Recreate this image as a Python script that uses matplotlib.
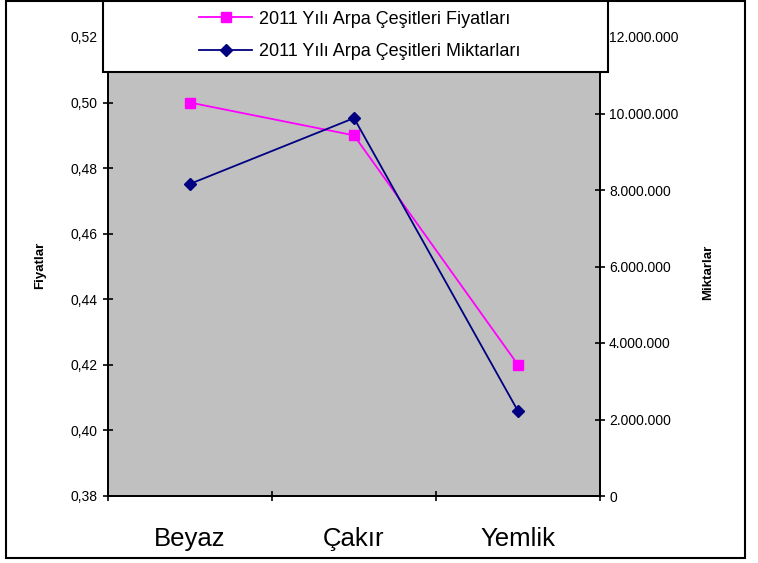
import matplotlib
matplotlib.use('Agg')
import matplotlib.pyplot as plt
from matplotlib.patches import Rectangle
from matplotlib.ticker import FuncFormatter, FixedLocator

plt.rcParams['font.family'] = ['Liberation Sans', 'DejaVu Sans']

kategoriler = ['Beyaz', 'Çakır', 'Yemlik']
fiyatlar = [0.50, 0.49, 0.42]
miktarlar = [8160000, 9880000, 2220000]
sol_ticks = [0.38, 0.40, 0.42, 0.44, 0.46, 0.48, 0.50, 0.52]
sag_ticks = [0, 2000000, 4000000, 6000000, 8000000, 10000000, 12000000]

W, H = 758, 563
fig = plt.figure(figsize=(W/100, H/100), dpi=100)
ax = fig.add_axes([108/W, 1-496/H, (600-108)/W, (496-37)/H])
ax.set_facecolor('#C0C0C0')
ax2 = ax.twinx()

x = list(range(len(kategoriler)))
l1, = ax.plot(x, fiyatlar, color='#FF00FF', lw=1.3, marker='s', ms=7,
              mec='#FF00FF', mfc='#FF00FF', label='2011 Yılı Arpa Çeşitleri Fiyatları')
l2, = ax2.plot(x, miktarlar, color='#000080', lw=1.3, marker='D', ms=6,
               mec='#000080', mfc='#000080', label='2011 Yılı Arpa Çeşitleri Miktarları')

ax.set_xlim(-0.5, len(kategoriler)-0.5)
ax.set_ylim(0.38, 0.52)
ax2.set_ylim(0, 12000000)
ax.set_yticks(sol_ticks)
ax2.set_yticks(sag_ticks)
ax.yaxis.set_major_formatter(FuncFormatter(lambda v, p: ('%.2f' % v).replace('.', ',')))
ax2.yaxis.set_major_formatter(FuncFormatter(lambda v, p: '{:,.0f}'.format(v).replace(',', '.')))

ax.xaxis.set_major_locator(FixedLocator([i-0.5 for i in range(len(kategoriler)+1)]))
ax.xaxis.set_minor_locator(FixedLocator(x))
ax.set_xticklabels([], minor=False)
ax.set_xticklabels(kategoriler, minor=True, fontsize=18.5)
ax.tick_params(axis='x', which='minor', length=0, pad=22)
ax.tick_params(axis='x', which='major', direction='inout', length=7, width=1.2)
ax.tick_params(axis='y', direction='inout', length=7, width=1.2, labelsize=10, pad=4)
ax2.tick_params(axis='y', direction='inout', length=7, width=1.2, labelsize=10, pad=3)

for a in (ax, ax2):
    for s in a.spines.values():
        s.set_linewidth(1.3)
        s.set_color('black')

fig.text(40/W, 1-265/H, 'Fiyatlar', rotation=90, fontsize=9.5, fontweight='bold',
         ha='center', va='center')
fig.text(708/W, 1-272/H, 'Miktarlar', rotation=90, fontsize=9.5, fontweight='bold',
         ha='center', va='center')

# legend kutusu
kutu = Rectangle((103/W, 1-72/H), (608-103)/W, 72/H, transform=fig.transFigure,
                 facecolor='white', edgecolor='black', lw=1.5, zorder=5)
fig.add_artist(kutu)
leg = fig.legend(handles=[l1, l2], loc='center', bbox_to_anchor=(360/W, 1-35.5/H),
                 frameon=False, fontsize=13, handlelength=2.9, labelspacing=0.88,
                 handletextpad=0.4)
leg.set_zorder(6)

# dis cerceve
fig.add_artist(Rectangle((6/W, 1-558/H), (745-6)/W, (558-1)/H, transform=fig.transFigure,
                         facecolor='none', edgecolor='black', lw=1.5, zorder=7))

fig.savefig('out.png', dpi=100)
